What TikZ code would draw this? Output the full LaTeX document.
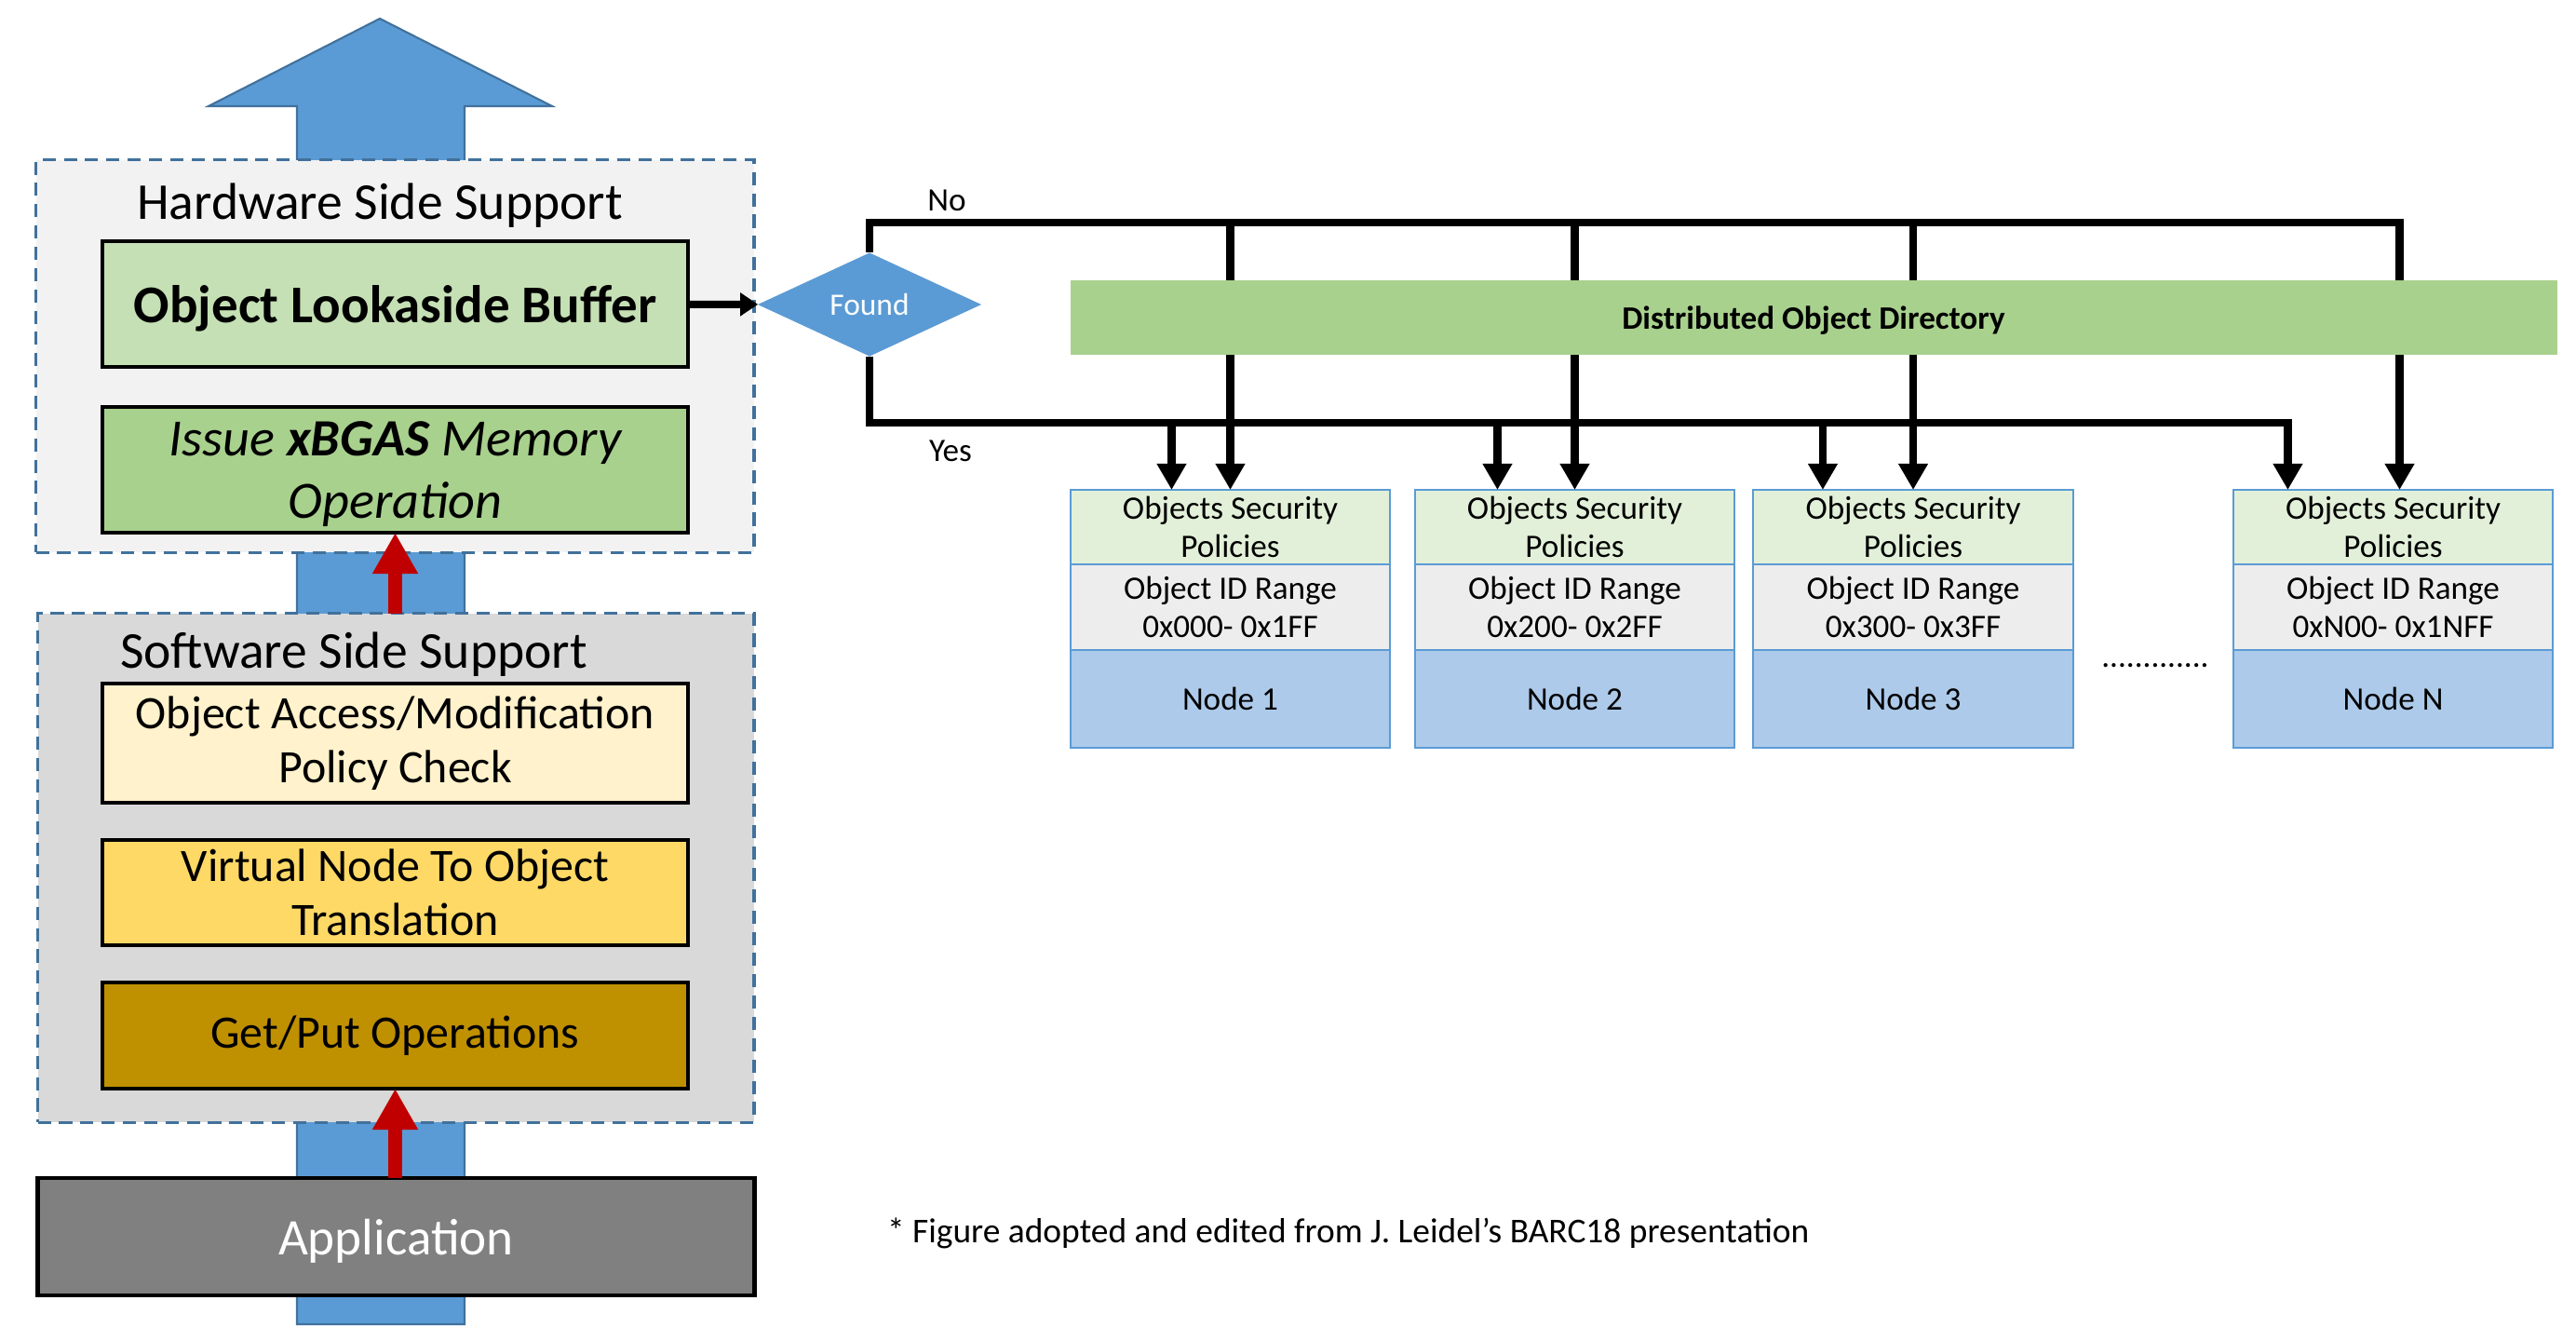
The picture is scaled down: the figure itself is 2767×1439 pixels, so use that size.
\documentclass[tikz,border=0pt]{standalone}
\usepackage{fontspec}
\setmainfont{Carlito}
\usetikzlibrary{arrows.meta,shapes.geometric}

\definecolor{arrowblue}{HTML}{5B9BD5}
\definecolor{arrowedge}{HTML}{41719C}
\definecolor{hwgray}{HTML}{F2F2F2}
\definecolor{swgray}{HTML}{D9D9D9}
\definecolor{olbgreen}{HTML}{C5E0B4}
\definecolor{issuegreen}{HTML}{A9D18E}
\definecolor{checkyellow}{HTML}{FFF2CC}
\definecolor{transyellow}{HTML}{FFD966}
\definecolor{getputgold}{HTML}{BF9000}
\definecolor{appgray}{HTML}{808080}
\definecolor{policygreen}{HTML}{E2F0D9}
\definecolor{rangegray}{HTML}{EDEDED}
\definecolor{nodeblue}{HTML}{ADCAEA}
\definecolor{redup}{HTML}{C00000}

\begin{document}
\begin{tikzpicture}[
            x=0.01cm,
            y=-0.01cm,
            every node/.style={
                inner sep=0pt,
                outer sep=0pt
            },
            layerbox/.style={
                draw=arrowedge,
                dash pattern=on 4pt off 2.5pt,
                line width=0.9pt
            },
            stackbox/.style={
                draw=black,
                line width=1.1pt,
                minimum width=6.29cm,
                align=center,
                font=\fontsize{14.2}{16.6}\selectfont
            },
            cell/.style={
                draw=arrowblue,
                line width=0.6pt,
                minimum width=3.43cm,
                align=center,
                font=\fontsize{10}{11.7}\selectfont
            },
            bus/.style={
                line width=2.4pt,
                -{Triangle[length=0.28cm,width=0.3cm]}
            },
            redarrow/.style={
                draw=redup,
                line width=0.15cm,
                -{Triangle[length=0.44cm,width=0.46cm]}
            }
        ]
            \useasboundingbox (0,0) rectangle (2767,1439);

            % big arrow behind the stack
            \draw[draw=arrowedge, fill=arrowblue, line width=0.6pt]
                (319,1422) -- (319,114) -- (224,114) -- (408,20)
                -- (593,114) -- (499,114) -- (499,1422) -- cycle;

            % hardware side
            \node[layerbox, fill=hwgray, minimum width=7.71cm, minimum height=4.21cm] (hw) at (424.3,382.5) {};
            \node[anchor=base, font=\fontsize{15.8}{18}\selectfont] (hwtitle) at (408,235) {Hardware Side Support};
            \node[stackbox, fill=olbgreen, minimum height=1.35cm, text depth=0pt,
                font=\fontsize{16.2}{19}\selectfont\bfseries] (olb) at (424.5,326.5) {Object Lookaside Buffer};
            \node[stackbox, fill=issuegreen, minimum height=1.35cm, text depth=0pt,
                font=\fontsize{16}{19}\selectfont\itshape] (issue) at (424.5,504.5) {Issue \textbf{xBGAS} Memory\\Operation};

            % software side
            \node[layerbox, fill=swgray, minimum width=7.69cm, minimum height=5.46cm] (sw) at (425.3,932) {};
            \node[anchor=base, font=\fontsize{15.8}{18}\selectfont] (swtitle) at (380,717) {Software Side Support};
            \node[stackbox, fill=checkyellow, minimum height=1.28cm] (policy) at (424.5,798) {Object Access/Modification\\Policy Check};
            \node[stackbox, fill=transyellow, minimum height=1.13cm] (vnode) at (424.5,958.5) {Virtual Node To Object\\Translation};
            \node[stackbox, fill=getputgold, minimum height=1.14cm] (getput) at (424.5,1112) {Get/Put Operations};

            \node[draw=black, line width=1.3pt, fill=appgray, minimum width=7.69cm, minimum height=1.26cm,
                text=white, text depth=0pt, font=\fontsize{15.7}{18}\selectfont] (app) at (425.5,1328) {Application};

            \draw[redarrow] (getput.south |- app.north) -- (getput.south);
            \draw[redarrow] (issue.south |- sw.north) -- (issue.south);

            % lookup
            \node[diamond, fill=arrowblue, minimum width=2.4cm, minimum height=1.11cm,
                text=white, font=\fontsize{9.5}{11}\selectfont] (found) at (934,327) {Found};
            \draw[line width=2.3pt, -{Triangle[length=0.19cm,width=0.24cm]}] (olb) -- (found);

            % nodes
            \node[cell, fill=policygreen, minimum height=0.8cm] (s1) at (1321.5,566) {Objects Security\\Policies};
            \node[cell, fill=rangegray, minimum height=0.92cm] (r1) at (1321.5,652) {Object ID Range\\0x000- 0x1FF};
            \node[cell, fill=nodeblue, minimum height=1.05cm] (n1) at (1321.5,750.5) {Node 1};

            \node[cell, fill=policygreen, minimum height=0.8cm] (s2) at (1691.5,566) {Objects Security\\Policies};
            \node[cell, fill=rangegray, minimum height=0.92cm] (r2) at (1691.5,652) {Object ID Range\\0x200- 0x2FF};
            \node[cell, fill=nodeblue, minimum height=1.05cm] (n2) at (1691.5,750.5) {Node 2};

            \node[cell, fill=policygreen, minimum height=0.8cm] (s3) at (2055,566) {Objects Security\\Policies};
            \node[cell, fill=rangegray, minimum height=0.92cm] (r3) at (2055,652) {Object ID Range\\0x300- 0x3FF};
            \node[cell, fill=nodeblue, minimum height=1.05cm] (n3) at (2055,750.5) {Node 3};

            \node[cell, fill=policygreen, minimum height=0.8cm] (sN) at (2570.5,566) {Objects Security\\Policies};
            \node[cell, fill=rangegray, minimum height=0.92cm] (rN) at (2570.5,652) {Object ID Range\\0xN00- 0x1NFF};
            \node[cell, fill=nodeblue, minimum height=1.05cm] (nN) at (2570.5,750.5) {Node N};

            \node[anchor=base, font=\fontsize{10}{12}\selectfont] (dots) at (2315,716) {.............};

            % no / yes buses
            \coordinate (nobus) at (934,239);
            \coordinate (yesbus) at (934,454);
            \coordinate (y1) at ([xshift=-0.63cm]s1.north);
            \coordinate (y2) at ([xshift=-0.83cm]s2.north);
            \coordinate (y3) at ([xshift=-0.97cm]s3.north);
            \coordinate (yN) at ([xshift=-1.13cm]sN.north);
            \coordinate (xN) at ([xshift=0.07cm]sN.north);

            \draw[bus] (found.north) -- (nobus) -| (xN);
            \draw[bus] (s1.north |- nobus) -- (s1.north);
            \draw[bus] (s2.north |- nobus) -- (s2.north);
            \draw[bus] (s3.north |- nobus) -- (s3.north);

            \draw[bus] (found.south) -- (yesbus) -| (yN);
            \draw[bus] (y1 |- yesbus) -- (y1);
            \draw[bus] (y2 |- yesbus) -- (y2);
            \draw[bus] (y3 |- yesbus) -- (y3);

            \node[fill=issuegreen, minimum width=15.96cm, minimum height=0.8cm, text depth=0pt,
                font=\fontsize{10}{12}\selectfont\bfseries] (dod) at (1948,341) {Distributed Object Directory};

            \node[font=\fontsize{10}{12}\selectfont] (nolabel) at (1017,215) {No};
            \node[font=\fontsize{10}{12}\selectfont] (yeslabel) at (1021,484) {Yes};

            \node[anchor=base west, font=\fontsize{10.65}{12.5}\selectfont] (credit) at (953,1334)
                {* Figure adopted and edited from J. Leidel’s BARC18 presentation};
        \end{tikzpicture}
\end{document}
